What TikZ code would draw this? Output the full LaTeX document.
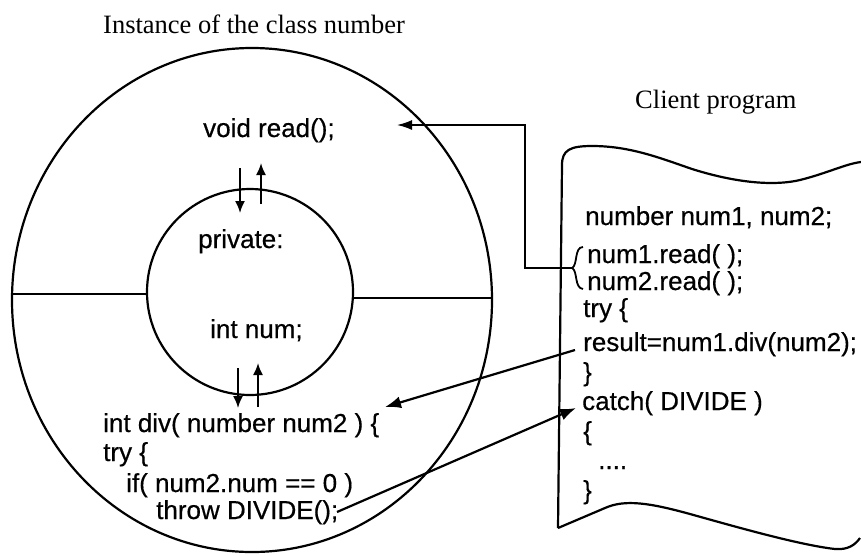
\documentclass[tikz,border=0pt]{standalone}
\usepackage{fontspec}
\setmainfont{Liberation Serif}
\newfontfamily\codefont[FakeBold=0.5]{Liberation Sans}
\usetikzlibrary{arrows.meta,shapes.geometric}
\begin{document}
\begin{tikzpicture}[x=1pt,y=-1pt,
  shape line/.style={line width=2.2pt},
  code/.style={font=\codefont\fontsize{26}{30}\selectfont,anchor=base west,inner sep=0pt},
  title/.style={font=\fontsize{26.5}{30}\selectfont,anchor=base west,inner sep=0pt},
  bigarrow/.style={line width=2.2pt,-{Latex[length=16pt,width=12pt]}},
  smallarrow/.style={line width=1.8pt,-{Latex[length=12pt,width=10pt]}},
  link/.style={line width=1.6pt,-{Latex[length=15pt,width=10pt]}}]
\useasboundingbox (0,0) rectangle (861,555);
% instance of class
\node[shape line,draw,ellipse,minimum width=480pt,minimum height=504pt,inner sep=0pt] (outer) at (252,300) {};
\node[shape line,draw,circle,minimum size=206pt,inner sep=0pt] (inner) at (250,292) {};
\draw[line width=1.8pt] (12.2,294) -- (147.1,294);
\draw[line width=1.8pt] (352.9,298) -- (491.7,298);
% texts in the object
\node[title] (t1) at (103,33) {Instance of the class number};
\node[code] (vr) at (203,137) {void read();};
\node[code] (pv) at (198,248) {private:};
\node[code] (in) at (210,338) {int num;};
\node[code] (d1) at (103,432) {int div( number num2 ) \{};
\node[code] (d2) at (103,461) {try \{};
\node[code] (d3) at (126,492) {if( num2.num == 0 )};
\node[code] (d4) at (156,519) {throw DIVIDE();};
% small vertical arrows
\coordinate (a1s) at (240,168); \coordinate (a1e) at (240,213);
\coordinate (a2s) at (261,204); \coordinate (a2e) at (261,163);
\coordinate (a3s) at (238,368); \coordinate (a3e) at (238,408);
\coordinate (a4s) at (258,407); \coordinate (a4e) at (258,363);
\draw[smallarrow] (a1s) -- (a1e);
\draw[smallarrow] (a2s) -- (a2e);
\draw[smallarrow] (a3s) -- (a3e);
\draw[smallarrow] (a4s) -- (a4e);
% client program
\node[title] (t2) at (635,108) {Client program};
\draw[shape line] (558,528) -- (562,165) .. controls (562,150) and (570,146) .. (592,146)
  .. controls (630,146) and (660,158) .. (692,169) .. controls (730,181) and (770,187) .. (800,180)
  .. controls (828,173) and (845,164) .. (861,162);
\draw[shape line] (558,528) -- (605,508) .. controls (625,499) and (650,503) .. (690,514)
  .. controls (740,528) and (800,545) .. (835,549) .. controls (848,550) and (855,545) .. (860,538);
\node[code] (c1) at (585,225) {number num1, num2;};
\node[code] (c2) at (587,263) {num1.read( );};
\node[code] (c3) at (587,290) {num2.read( );};
\node[code] (c4) at (583,317) {try \{};
\node[code] (c5) at (583,351) {result=num1.div(num2);};
\node[code] (c6) at (583,381) {\}};
\node[code] (c7) at (582,410) {catch( DIVIDE )};
\node[code] (c8) at (583,440) {\{};
\node[code] (c9) at (598,469) {....};
\node[code] (c10) at (583,499) {\}};
% brace
\coordinate (br) at (572,268);
\draw[line width=1.8pt] (583,247) .. controls (574,247) and (578,265) .. (br)
  .. controls (578,271) and (574,288) .. (583,289);
% connectors
\coordinate (k1) at (525,268);
\coordinate (k2) at (525,125);
\coordinate (vrtip) at (397,125);
\draw[link] (br) -- (k1) -- (k2) -- (vrtip);
\coordinate (c5l) at (575,350);
\coordinate (d1tip) at (385,407);
\draw[bigarrow] (c5l) -- (d1tip);
\coordinate (d4r) at (337,512);
\coordinate (c7tip) at (576,408);
\draw[bigarrow] (d4r) -- (c7tip);
\end{tikzpicture}
\end{document}
